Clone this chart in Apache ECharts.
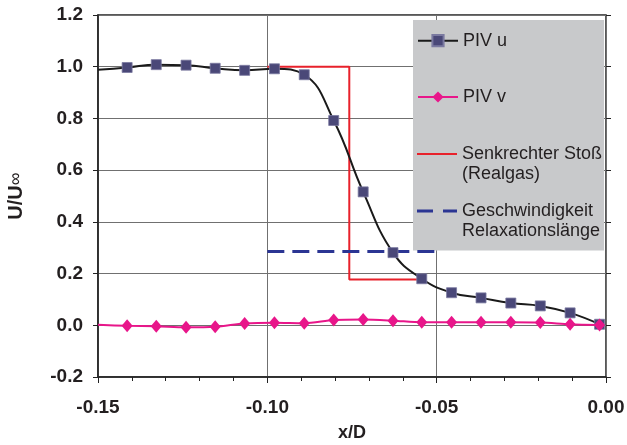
<!DOCTYPE html>
<html><head><meta charset="utf-8">
<script src="https://cdn.jsdelivr.net/npm/echarts@6/dist/echarts.min.js"></script>
<style>html,body{margin:0;padding:0;background:#fff}#c{width:627px;height:445px}</style>
</head><body><div id="c"></div>
<script>
// ---- data ----
const xPos  = [-0.1414,-0.1328,-0.1240,-0.1154,-0.1067,-0.0979,-0.0891,-0.0804,-0.0717,-0.0629,-0.0544,-0.0456,-0.0369,-0.0281,-0.0194,-0.0106,-0.0019];
const uVals = [0.997,1.008,1.006,0.994,0.986,0.992,0.969,0.792,0.516,0.281,0.180,0.126,0.106,0.086,0.075,0.048,0.004];
const vVals = [-0.002,-0.004,-0.008,-0.006,0.007,0.010,0.008,0.020,0.022,0.018,0.012,0.012,0.012,0.012,0.011,0.004,0.001];
const edgeX = -0.15, uEdge = 0.988, vEdge = 0.002;
const shockX = [-0.100,-0.0758,-0.0758,-0.055];
const shockY = [1.0,1.0,0.177,0.177];
const relaxX = [-0.100,-0.050];
const relaxY = [0.285,0.285];
const seriesNames = ['PIV u','PIV v','Senkrechter Stoß (Realgas)','Geschwindigkeit Relaxationslänge'];
const legendLabels = ['PIV u','PIV v','\nSenkrechter Stoß\n(Realgas)','\nGeschwindigkeit\nRelaxationslänge'];
const xLabelDigits = 2, yLabelDigits = 1;

// ---- build ----
const FONT = "'Liberation Sans', Arial, sans-serif";
function pts(xs, ys){ return xs.map((x,i)=>[x, ys[i]]); }
const uData = [{value:[edgeX,uEdge], symbol:'none'}].concat(pts(xPos,uVals));
const vData = [{value:[edgeX,vEdge], symbol:'none'}].concat(pts(xPos,vVals));

const legendIcons = [null, null, 'path://M0,0H40V2H0Z', 'path://M0,0H16V3H0ZM26,0H40V3H26Z'];
const chart = echarts.init(document.getElementById('c'), null, {renderer:'canvas'});
const legendTops = [30.7, 87, 124, 181];
const legends = seriesNames.map((n,i)=>({
  show:true, orient:'vertical', left:417, top:legendTops[i], padding:0,
  itemWidth:40, itemHeight:14, itemGap:0,
  data:[legendIcons[i] ? {name:n, icon:legendIcons[i]} : n],
  formatter: ()=>legendLabels[i],
  textStyle:{fontFamily:FONT, fontSize:18, color:'#231f20', lineHeight:20},
  selectedMode:false
}));

chart.setOption({
  animation:false,
  backgroundColor:'#fff',
  grid:{left:98, right:21, top:15, bottom:68, containLabel:false, outerBoundsMode:'none',
        show:true, borderColor:'#222', borderWidth:1.5, backgroundColor:'transparent'},
  graphic:[{type:'rect', shape:{x:413, y:20, width:191, height:230.5}, style:{fill:'#c8c9cb'}, z:1}],
  legend: legends,
  xAxis:[{
    type:'value', min:-0.15, max:0, interval:0.05,
    axisLine:{show:true, onZero:false, lineStyle:{color:'#222', width:1.5}},
    axisTick:{show:true, length:6, lineStyle:{color:'#222'}},
    minorTick:{show:true, splitNumber:5, length:4, lineStyle:{color:'#222'}},
    splitLine:{show:true, lineStyle:{color:'#707070', width:1}},
    axisLabel:{formatter:v=>v.toFixed(xLabelDigits), fontFamily:FONT, fontWeight:'bold', fontSize:19, color:'#231f20', margin:21},
    name:'x/D', nameLocation:'middle', nameGap:47,
    nameTextStyle:{fontFamily:FONT, fontWeight:'bold', fontSize:18, color:'#231f20'}
  }],
  yAxis:[{
    type:'value', min:-0.2, max:1.2, interval:0.2,
    axisLine:{show:true, onZero:false, lineStyle:{color:'#222', width:1.5}},
    axisTick:{show:true, length:5, lineStyle:{color:'#222'}},
    splitLine:{show:true, lineStyle:{color:'#707070', width:1}},
    axisLabel:{formatter:v=>v.toFixed(yLabelDigits), fontFamily:FONT, fontWeight:'bold', fontSize:19, color:'#231f20', margin:15},
    name:'{b|U/U}{n|∞}', nameLocation:'middle', nameGap:72, nameRotate:90,
    nameTextStyle:{fontFamily:FONT, color:'#231f20',
      rich:{b:{fontFamily:FONT, fontWeight:'bold', fontSize:20, color:'#231f20'},
            n:{fontFamily:FONT, fontWeight:'normal', fontSize:18, color:'#231f20'}}}
  },{
    type:'value', min:-0.2, max:1.2, interval:0.2, position:'left',
    axisLine:{show:false}, axisLabel:{show:false}, splitLine:{show:false},
    axisTick:{show:true, inside:true, length:5, lineStyle:{color:'#222'}}
  }],
  series:[
    {name:seriesNames[0], type:'line', data:uData, smooth:0.45, symbol:'rect', symbolSize:10,
     lineStyle:{color:'#1a1a1a', width:2}, itemStyle:{color:'#4a4878', borderColor:'#7a79a0', borderWidth:0.8}, z:3},
    {name:seriesNames[1], type:'line', data:vData, smooth:0.3, symbol:'diamond', symbolSize:[11,13],
     lineStyle:{color:'#e8168a', width:2}, itemStyle:{color:'#e8168a'}, z:4},
    {name:seriesNames[2], type:'line', data:pts(shockX,shockY), symbol:'none',
     lineStyle:{color:'#e8212b', width:2}, itemStyle:{color:'#e8212b'}, z:2},
    {name:seriesNames[3], type:'line', data:pts(relaxX,relaxY), symbol:'none',
     lineStyle:{color:'#2b3593', width:3, type:[17,8]}, itemStyle:{color:'#2b3593'}, z:2}
  ]
});
</script></body></html>
